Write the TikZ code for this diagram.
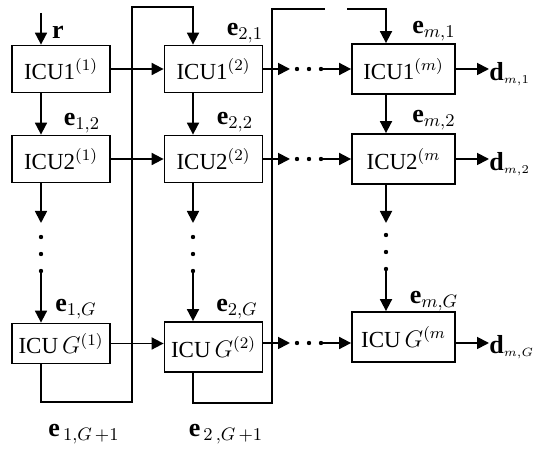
\documentclass[tikz,border=0pt]{standalone}
\usepackage{fontspec}
\setmainfont{Liberation Serif}
\usetikzlibrary{arrows.meta,calc}

\begin{document}
\begin{tikzpicture}[x=0.5pt, y=-0.5pt,
    unit/.style={draw, rectangle, line width=0.9pt, minimum width=49pt, minimum height=23.5pt, inner sep=1pt, font=\fontsize{11.5}{13}\selectfont},
    arrow/.style={-{Triangle[length=6pt,width=6pt]}, line width=0.9pt},
    wire/.style={line width=0.9pt},
    lbl/.style={font=\fontsize{13}{15}\selectfont, inner sep=0pt}
]
    \useasboundingbox (0,0) rectangle (536,454);

    \coordinate (x1) at (41,0);
    \coordinate (x2) at (193,0);
    \coordinate (x3) at (386,0);

    \node[unit] (a1) at (61,69) {ICU1$^{(1)}$};
    \node[unit] (a2) at (61,159) {ICU2$^{(1)}$};
    \node[unit, minimum height=20pt] (aG) at (61,343.5) {ICU$\,G^{(1)}$};

    \node[unit] (b1) at (213.5,69) {ICU1$^{(2)}$};
    \node[unit] (b2) at (213.5,159) {ICU2$^{(2)}$};
    \node[unit, minimum height=25pt] (bG) at (213.5,347) {ICU$\,G^{(2)}$};

    \node[unit, minimum width=51.5pt, minimum height=25pt] (c1) at (403.5,69) {ICU1$^{(m)}$};
    \node[unit, minimum width=51.5pt, minimum height=25pt] (c2) at (403.5,159) {ICU2$^{(m}$};
    \node[unit, minimum width=51.5pt, minimum height=25pt] (cG) at (403.5,337) {ICU$\,G^{(m}$};

    \node[lbl] (r) at (58,32) {\textbf{r}};
    \node[lbl] (e12) at (82,123) {\textbf{e}$_{1,2}$};
    \node[lbl] (e1G) at (76,309) {\textbf{e}$_{1,G}$};
    \node[lbl] (e21) at (245,33) {\textbf{e}$_{2,1}$};
    \node[lbl] (e22) at (235,122) {\textbf{e}$_{2,2}$};
    \node[lbl] (e2G) at (237,309) {\textbf{e}$_{2,G}$};
    \node[lbl] (em1) at (434,31) {\textbf{e}$_{m,1}$};
    \node[lbl] (em2) at (434,120) {\textbf{e}$_{m,2}$};
    \node[lbl] (emG) at (434,301) {\textbf{e}$_{m,G}$};
    \node[lbl] (e1n) at (84,434) {\textbf{e}$_{\,1,G\,+1}$};
    \node[lbl] (e2n) at (226,434) {\textbf{e}$_{\,2\,,G\,+1}$};

    \node[lbl, anchor=west] (d1) at (489,74) {\textbf{d}$_{\scriptscriptstyle m,1}$};
    \node[lbl, anchor=west] (d2) at (489,164) {\textbf{d}$_{\scriptscriptstyle m,2}$};
    \node[lbl, anchor=west] (dG) at (489,347) {\textbf{d}$_{\scriptscriptstyle m,G}$};

    \coordinate (rin) at (41,13);
    \coordinate (v1a) at (41,223);
    \coordinate (v1b) at (41,271);
    \coordinate (v2a) at (193,223);
    \coordinate (v2b) at (193,271);
    \coordinate (v3a) at (386,223);
    \coordinate (v3b) at (386,269);
    \coordinate (h1a) at (290,69);
    \coordinate (h1b) at (321,69);
    \coordinate (h2a) at (290,159);
    \coordinate (h2b) at (321,159);
    \coordinate (hGa) at (290,343);
    \coordinate (hGb) at (321,343);
    \coordinate (f1b) at (132,402);
    \coordinate (f1t) at (132,7);
    \coordinate (f2b) at (272,403);
    \coordinate (f2t) at (272,9);
    \coordinate (f2e) at (325,9);
    \coordinate (f3s) at (347,9);

    \draw[arrow] (rin) -- (a1.north -| x1);
    \draw[arrow] (a1.south -| x1) -- (a2.north -| x1);
    \draw[arrow] (a2.south -| x1) -- (v1a);
    \draw[arrow] (v1b) -- (aG.north -| x1);
    \draw[arrow] (b1.south -| x2) -- (b2.north -| x2);
    \draw[arrow] (b2.south -| x2) -- (v2a);
    \draw[arrow] (v2b) -- (bG.north -| x2);
    \draw[arrow] (c1.south -| x3) -- (c2.north -| x3);
    \draw[arrow] (c2.south -| x3) -- (v3a);
    \draw[arrow] (v3b) -- (cG.north -| x3);
    \foreach \y in {237,254,271} {
        \fill (41,\y) circle (1.1pt);
        \fill (193,\y) circle (1.1pt);
    }
    \foreach \y in {235,252,269}
        \fill (386,\y) circle (1.1pt);

    \draw[arrow] (a1.east) -- (b1.west);
    \draw[arrow] (a2.east) -- (b2.west);
    \draw[arrow] (aG.east) -- (bG.west |- aG.east);
    \draw[arrow] (b1.east) -- (h1a);
    \draw[arrow] (h1b) -- (c1.west);
    \draw[arrow] (b2.east) -- (h2a);
    \draw[arrow] (h2b) -- (c2.west);
    \draw[arrow] (bG.east |- hGa) -- (hGa);
    \draw[arrow] (hGb) -- (cG.west |- hGb);
    \foreach \y in {69,159,343}
        \foreach \x in {297,309,321}
            \fill (\x,\y) circle (1.1pt);

    \draw[arrow] (c1.east) -- (d1.west |- c1.east);
    \draw[arrow] (c2.east) -- (d2.west |- c2.east);
    \draw[arrow] (cG.east |- hGb) -- (dG.west |- hGb);

    \draw[arrow] (aG.south -| x1) |- (f1b) -- (f1t) -| (b1.north -| x2);
    \draw[wire] (bG.south -| x2) |- (f2b) -- (f2t) -- (f2e);
    \draw[arrow] (f3s) -| (c1.north -| x3);

\end{tikzpicture}
\end{document}
